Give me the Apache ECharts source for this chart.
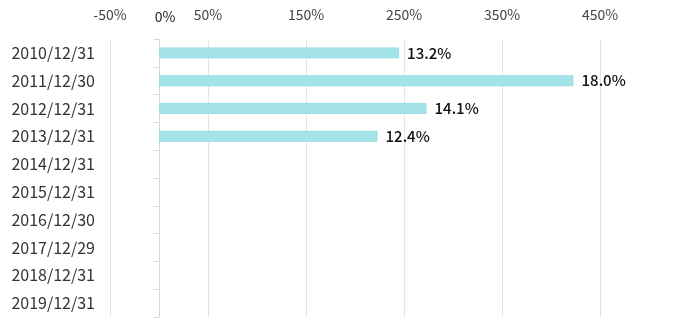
<!DOCTYPE html>
<html>
<head>
<meta charset="utf-8">
<script src="https://cdn.jsdelivr.net/npm/echarts@6/dist/echarts.min.js"></script>
<style>html,body{margin:0;padding:0;background:#fff}#c{width:680px;height:333px}</style>
</head>
<body>
<div id="c"></div>
<script>
var categories = ['2010/12/31','2011/12/30','2012/12/31','2013/12/31','2014/12/31','2015/12/31','2016/12/30','2017/12/29','2018/12/31','2019/12/31'];
var values = [245, 423, 273, 223, null, null, null, null, null, null];
var barLabels = ['13.2%','18.0%','14.1%','12.4%','','','','','',''];
var tickShift = 50; // tick labels are -50%, 50%, 150% ... 450%

var font = '"Noto Sans CJK JP", "Noto Sans", sans-serif';
var chart = echarts.init(document.getElementById('c'));
chart.setOption({
  animation: false,
  grid: {left: 110, right: 80, top: 39, bottom: 16, containLabel: false},
  xAxis: [
    {
      type: 'value', position: 'top', min: 0, max: 500, interval: 100,
      axisLine: {show: false}, axisTick: {show: false},
      splitLine: {show: true, lineStyle: {color: '#e4e4e4', width: 1}},
      axisLabel: {margin: 17, fontFamily: font, fontSize: 14, color: '#444',
        formatter: function (v) { return (v - tickShift) + '%'; }}
    },
    {
      type: 'value', position: 'top', min: -50, max: 450, interval: 50,
      axisLine: {show: false}, axisTick: {show: false}, splitLine: {show: false},
      axisLabel: {margin: 15, fontFamily: font, fontSize: 14, color: '#222',
        padding: [0, 0, 0, 12],
        formatter: function (v) { return v === 0 ? '0%' : ''; }}
    }
  ],
  yAxis: [
    {
      type: 'category', data: categories, inverse: true,
      axisLine: {show: false, onZero: false}, axisTick: {show: false},
      axisLabel: {margin: 15, fontFamily: font, fontSize: 16, color: '#333'}
    },
    {
      type: 'category', data: categories, inverse: true,
      axisLine: {show: true, onZero: true, onZeroAxisIndex: 1, lineStyle: {color: '#d6d6d6'}},
      axisTick: {show: true, inside: true, length: 5, lineStyle: {color: '#d6d6d6'}},
      axisLabel: {show: false}
    }
  ],
  series: [{
    type: 'bar', xAxisIndex: 1, yAxisIndex: 0, data: values, barWidth: 11,
    itemStyle: {color: '#a4e4e8', borderColor: '#9adfe4', borderWidth: 1},
    label: {show: true, position: 'right', distance: 8, fontFamily: font, fontSize: 15,
      color: '#111', fontWeight: 500,
      formatter: function (p) { return barLabels[p.dataIndex]; }}
  }]
});
</script>
</body>
</html>
